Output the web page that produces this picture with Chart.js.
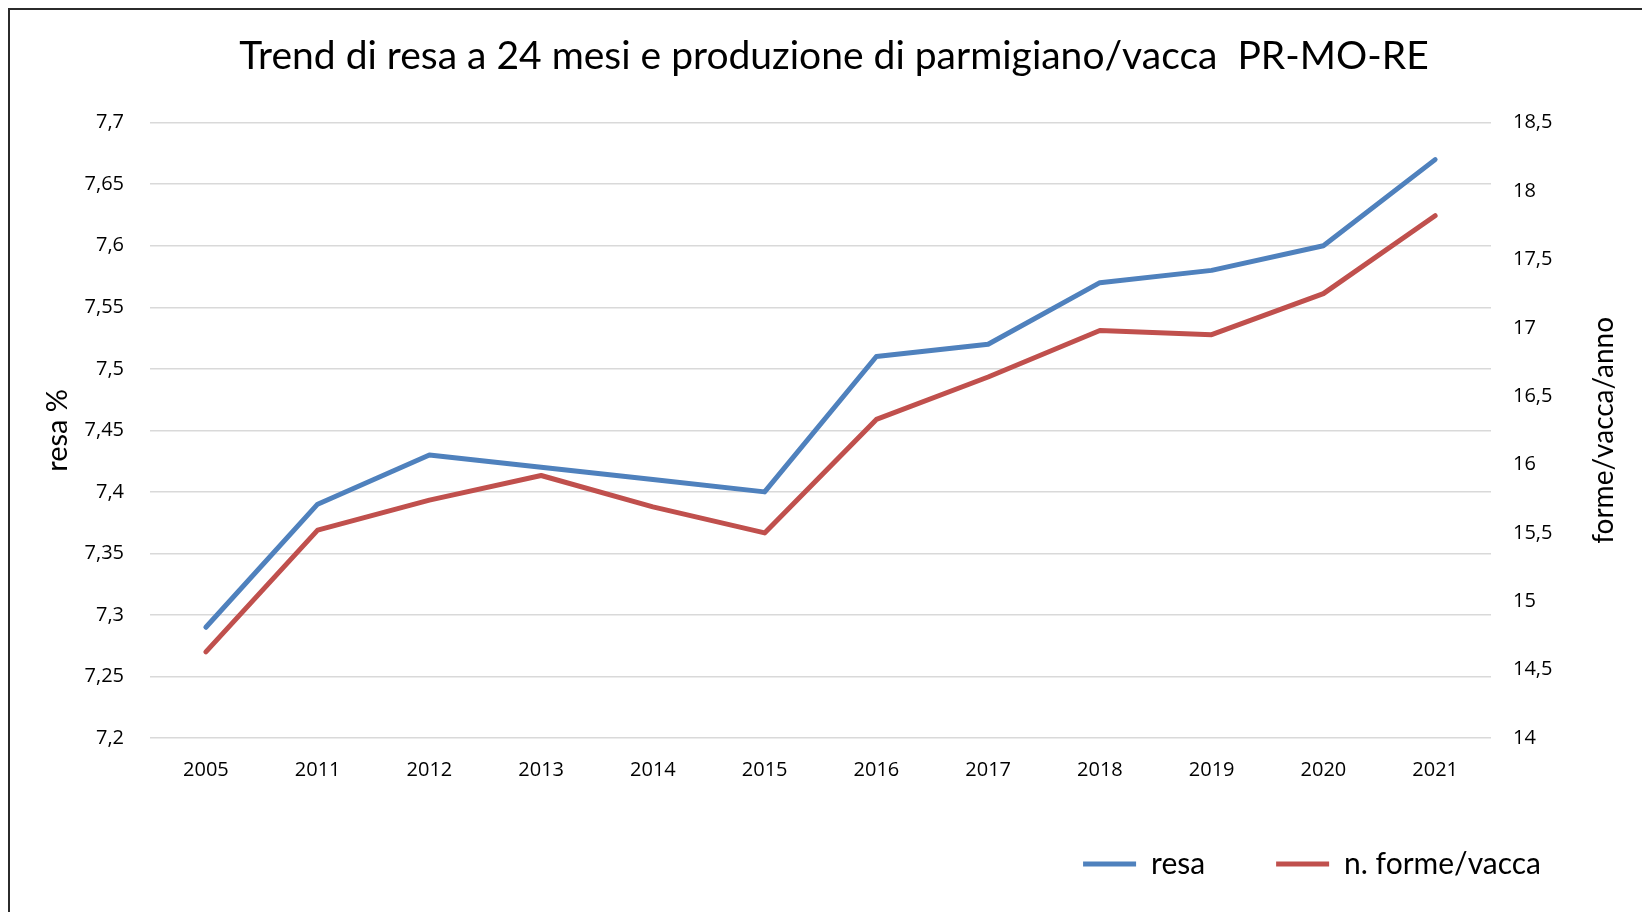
<!DOCTYPE html>
<html>
<head>
<meta charset="utf-8">
<script src="https://cdn.jsdelivr.net/npm/chart.js@4/dist/chart.umd.min.js"></script>
<style>
  html, body { margin: 0; padding: 0; background: #fff; overflow: hidden; }
  #frame {
    position: absolute; left: 8px; top: 8px; width: 1632px; height: 920px;
    border-left: 2px solid #2b2b2b; border-top: 2px solid #2b2b2b;
    pointer-events: none;
  }
  canvas { position: absolute; left: 0; top: 0; }
</style>
</head>
<body>
<canvas id="resaChart" width="1620" height="912"></canvas>
<div id="frame"></div>
<script>
const years = ['2005', '2011', '2012', '2013', '2014', '2015', '2016', '2017', '2018', '2019', '2020', '2021'];
const resa = [7.29, 7.39, 7.43, 7.42, 7.41, 7.40, 7.51, 7.52, 7.57, 7.58, 7.60, 7.67];
const formeVacca = [14.63, 15.52, 15.74, 15.92, 15.69, 15.50, 16.33, 16.64, 16.98, 16.95, 17.25, 17.82];

const chartTitle = 'Trend di resa a 24 mesi e produzione di parmigiano/vacca  PR-MO-RE';
const leftTitle = 'resa %';
const rightTitle = 'forme/vacca/anno';

const FONT = 'Lato, "Open Sans", sans-serif';
const TICK_FONT = '"Open Sans", "Noto Sans", sans-serif';

function commaNum(v) {
    return String(Math.round(v * 100) / 100).replace('.', ',');
}

// titoli degli assi, entrambi letti dal basso verso l'alto come nell'originale
const axisTitlesPlugin = {
    id: 'axisTitles',
    afterDraw(chart) {
        const { ctx, chartArea } = chart;
        const midY = (chartArea.top + chartArea.bottom) / 2;
        const draw = (text, x, size) => {
            ctx.save();
            ctx.translate(x, midY);
            ctx.rotate(-Math.PI / 2);
            ctx.font = size + 'px ' + FONT;
            ctx.fillStyle = '#000';
            ctx.textAlign = 'center';
            ctx.textBaseline = 'middle';
            ctx.fillText(text, 0, 0);
            ctx.restore();
        };
        draw(leftTitle, chartArea.left - 92, 29);
        draw(rightTitle, chartArea.right + 113, 28);
    }
};

new Chart(document.getElementById('resaChart'), {
    type: 'line',
    data: {
        labels: years,
        datasets: [{
            label: 'resa',
            data: resa,
            yAxisID: 'y',
            borderColor: '#4F81BD',
            backgroundColor: '#4F81BD',
            borderWidth: 5,
            pointRadius: 0,
            borderCapStyle: 'round',
            borderJoinStyle: 'round',
            tension: 0
        }, {
            label: 'n. forme/vacca',
            data: formeVacca,
            yAxisID: 'y2',
            borderColor: '#C0504D',
            backgroundColor: '#C0504D',
            borderWidth: 5,
            pointRadius: 0,
            borderCapStyle: 'round',
            borderJoinStyle: 'round',
            tension: 0
        }]
    },
    options: {
        responsive: false,
        animation: false,
        devicePixelRatio: 1,
        layout: { padding: { left: 56, right: 8, top: 0, bottom: 23 } },
        plugins: {
            title: {
                display: true,
                text: chartTitle,
                color: '#000',
                font: { family: FONT, size: 39, weight: 'normal' },
                padding: { top: 32.6, bottom: 43.3 }
            },
            legend: {
                position: 'bottom',
                align: 'end',
                labels: {
                    color: '#000',
                    font: { family: FONT, size: 30 },
                    boxWidth: 53,
                    boxHeight: 5,
                    padding: 71,
                    generateLabels(chart) {
                        const items = Chart.defaults.plugins.legend.labels.generateLabels(chart);
                        items.forEach(it => {
                            it.fillStyle = it.strokeStyle;
                            it.lineWidth = 0;
                        });
                        return items;
                    }
                }
            },
            tooltip: { enabled: false }
        },
        scales: {
            x: {
                offset: true,
                grid: { display: false, drawTicks: false, tickLength: 0 },
                border: { display: false },
                ticks: {
                    color: '#000',
                    font: { family: TICK_FONT, size: 20 },
                    padding: 20,
                    maxRotation: 0
                },
                afterFit(scale) { scale.height = 40; }
            },
            y: {
                position: 'left',
                min: 7.2,
                max: 7.7,
                grid: { color: '#D9D9D9', lineWidth: 1.5, drawTicks: false },
                border: { display: false },
                ticks: {
                    stepSize: 0.05,
                    color: '#000',
                    font: { family: TICK_FONT, size: 20 },
                    padding: 26,
                    callback: v => commaNum(v)
                },
                afterFit(scale) { scale.width = 94; }
            },
            y2: {
                position: 'right',
                min: 14,
                max: 18.5,
                grid: { drawOnChartArea: false, drawTicks: false },
                border: { display: false },
                ticks: {
                    stepSize: 0.5,
                    color: '#000',
                    font: { family: TICK_FONT, size: 20 },
                    padding: 22,
                    callback: v => commaNum(v)
                },
                afterFit(scale) { scale.width = 121; }
            }
        }
    },
    plugins: [axisTitlesPlugin]
});
</script>
</body>
</html>
